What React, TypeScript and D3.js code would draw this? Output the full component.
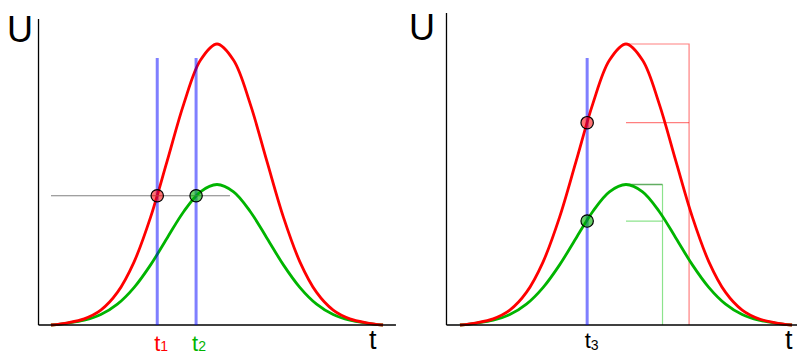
import React from "react";
import * as d3 from "d3";

// Sample times along the pulse (arbitrary time units)
const tValues = [0, 0.5, 1, 1.5, 2, 2.5, 3, 3.5, 4, 4.5, 5, 5.5, 6, 6.5, 7, 7.5, 8, 8.5, 9, 9.5, 10];
// Large pulse (red) and small pulse (green), relative amplitude
const redValues = [0.0, 0.008, 0.022, 0.053, 0.116, 0.224, 0.384, 0.584, 0.787, 0.942, 1.0, 0.942, 0.787, 0.584, 0.384, 0.224, 0.116, 0.053, 0.022, 0.008, 0.0];
const greenValues = [0.0, 0.007, 0.017, 0.037, 0.074, 0.133, 0.214, 0.31, 0.404, 0.474, 0.5, 0.474, 0.404, 0.31, 0.214, 0.133, 0.074, 0.037, 0.017, 0.007, 0.0];

// Left panel: fixed threshold crossing times
const threshold = 0.46;
const t1 = 3.2;
const t2 = 4.37;
const thresholdEnd = 5.39;
// Right panel: constant-fraction time and levels
const t3 = 3.83;
const peakTime = 5;
const redFraction = 0.72;
const greenFraction = 0.37;
const redBoxEnd = 6.9;
const greenBoxEnd = 6.1;
const markerTop = 0.95;

const W = 797;
const H = 351;
const FONT = "'Liberation Sans', Arial, sans-serif";

const y = d3.scaleLinear().domain([0, 1]).range([325, 44]);

type Pt = [number, number];
const redPts: Pt[] = tValues.map((t, i) => [t, redValues[i]]);
const greenPts: Pt[] = tValues.map((t, i) => [t, greenValues[i]]);

function Panel({ x0, axisLeft, axisRight, axisTop, children }: {
  x0: number; axisLeft: number; axisRight: number; axisTop: number;
  children: (x: d3.ScaleLinear<number, number>) => React.ReactNode;
}) {
  const x = d3.scaleLinear().domain([0, 10]).range([x0, x0 + 332]);
  const line = d3.line<Pt>().x((d) => x(d[0])).y((d) => y(d[1])).curve(d3.curveCatmullRom.alpha(0.5));
  return (
    <g>
      {children(x)}
      <path d={line(greenPts) || ""} fill="none" stroke="#00b400" strokeWidth={2.8} />
      <path d={line(redPts) || ""} fill="none" stroke="#ff0000" strokeWidth={2.8} />
      <line x1={x(axisLeft)} x2={x(axisLeft)} y1={y(0)} y2={y(axisTop)} stroke="#000" strokeWidth={1.3} />
      <line x1={x(axisLeft)} x2={x(axisRight)} y1={y(0)} y2={y(0)} stroke="#000" strokeWidth={1.6} />
    </g>
  );
}

export default function App() {
  const xL = d3.scaleLinear().domain([0, 10]).range([51, 383]);
  const xR = d3.scaleLinear().domain([0, 10]).range([460, 792]);
  return (
    <svg width={W} height={H} style={{ position: "absolute", left: 0, top: 0, background: "#fff" }} fontFamily={FONT}>
      <rect width={W} height={H} fill="#fff" />
      {/* Left panel: leading-edge discrimination */}
      <Panel x0={51} axisLeft={-0.376} axisRight={10.39} axisTop={1.089}>
        {() => null}
      </Panel>
      {[t1, t2].map((t) => (
        <line key={t} x1={xL(t)} x2={xL(t)} y1={y(0)} y2={y(markerTop)} stroke="#0000ff" strokeOpacity={0.5} strokeWidth={3} />
      ))}
      <line x1={xL(0)} x2={xL(thresholdEnd)} y1={y(threshold)} y2={y(threshold)} stroke="#808080" strokeWidth={1.2} />
      <circle cx={xL(t1)} cy={y(threshold)} r={6.2} fill="#ff0000" fillOpacity={0.55} stroke="#000" strokeWidth={1.2} />
      <circle cx={xL(t2)} cy={y(threshold)} r={6.2} fill="#00b000" fillOpacity={0.6} stroke="#000" strokeWidth={1.2} />
      <text x={7} y={42} fontSize={36} fill="#000">U</text>
      <text x={369} y={349} fontSize={27} fill="#000">t</text>
      <text x={xL(t1) - 3} y={351} fontSize={22} fill="#ff0000">t<tspan fontSize={14} dy={0}>1</tspan></text>
      <text x={xL(t2) - 4} y={351} fontSize={22} fill="#00b400">t<tspan fontSize={14} dy={0}>2</tspan></text>

      {/* Right panel: constant-fraction discrimination */}
      <Panel x0={460} axisLeft={-0.407} axisRight={10.4} axisTop={1.11}>
        {(x) => (
          <g fill="none" strokeWidth={1.2}>
            <polyline points={[[peakTime, 1], [redBoxEnd, 1], [redBoxEnd, 0]].map(([t, u]) => `${x(t)},${y(u)}`).join(" ")} stroke="#ff0000" strokeOpacity={0.5} />
            <line x1={x(peakTime)} x2={x(redBoxEnd)} y1={y(redFraction)} y2={y(redFraction)} stroke="#ff0000" strokeOpacity={0.5} />
            <line x1={x(peakTime)} x2={x(greenBoxEnd)} y1={y(0.5)} y2={y(0.5)} stroke="#208a20" strokeOpacity={0.7} strokeWidth={1.6} />
            <line x1={x(greenBoxEnd)} x2={x(greenBoxEnd)} y1={y(0.5)} y2={y(0)} stroke="#00c000" strokeOpacity={0.45} />
            <line x1={x(peakTime)} x2={x(greenBoxEnd)} y1={y(greenFraction)} y2={y(greenFraction)} stroke="#00c000" strokeOpacity={0.45} />
          </g>
        )}
      </Panel>
      <line x1={xR(t3)} x2={xR(t3)} y1={y(0)} y2={y(markerTop)} stroke="#0000ff" strokeOpacity={0.5} strokeWidth={3} />
      <circle cx={xR(t3)} cy={y(redFraction)} r={6.2} fill="#ff0000" fillOpacity={0.55} stroke="#000" strokeWidth={1.2} />
      <circle cx={xR(t3)} cy={y(greenFraction)} r={6.2} fill="#00b000" fillOpacity={0.6} stroke="#000" strokeWidth={1.2} />
      <text x={409} y={40} fontSize={36} fill="#000">U</text>
      <text x={785} y={349} fontSize={27} fill="#000">t</text>
      <text x={xR(t3) - 2.5} y={348} fontSize={22} fill="#000">t<tspan fontSize={14} dy={2}>3</tspan></text>
    </svg>
  );
}
